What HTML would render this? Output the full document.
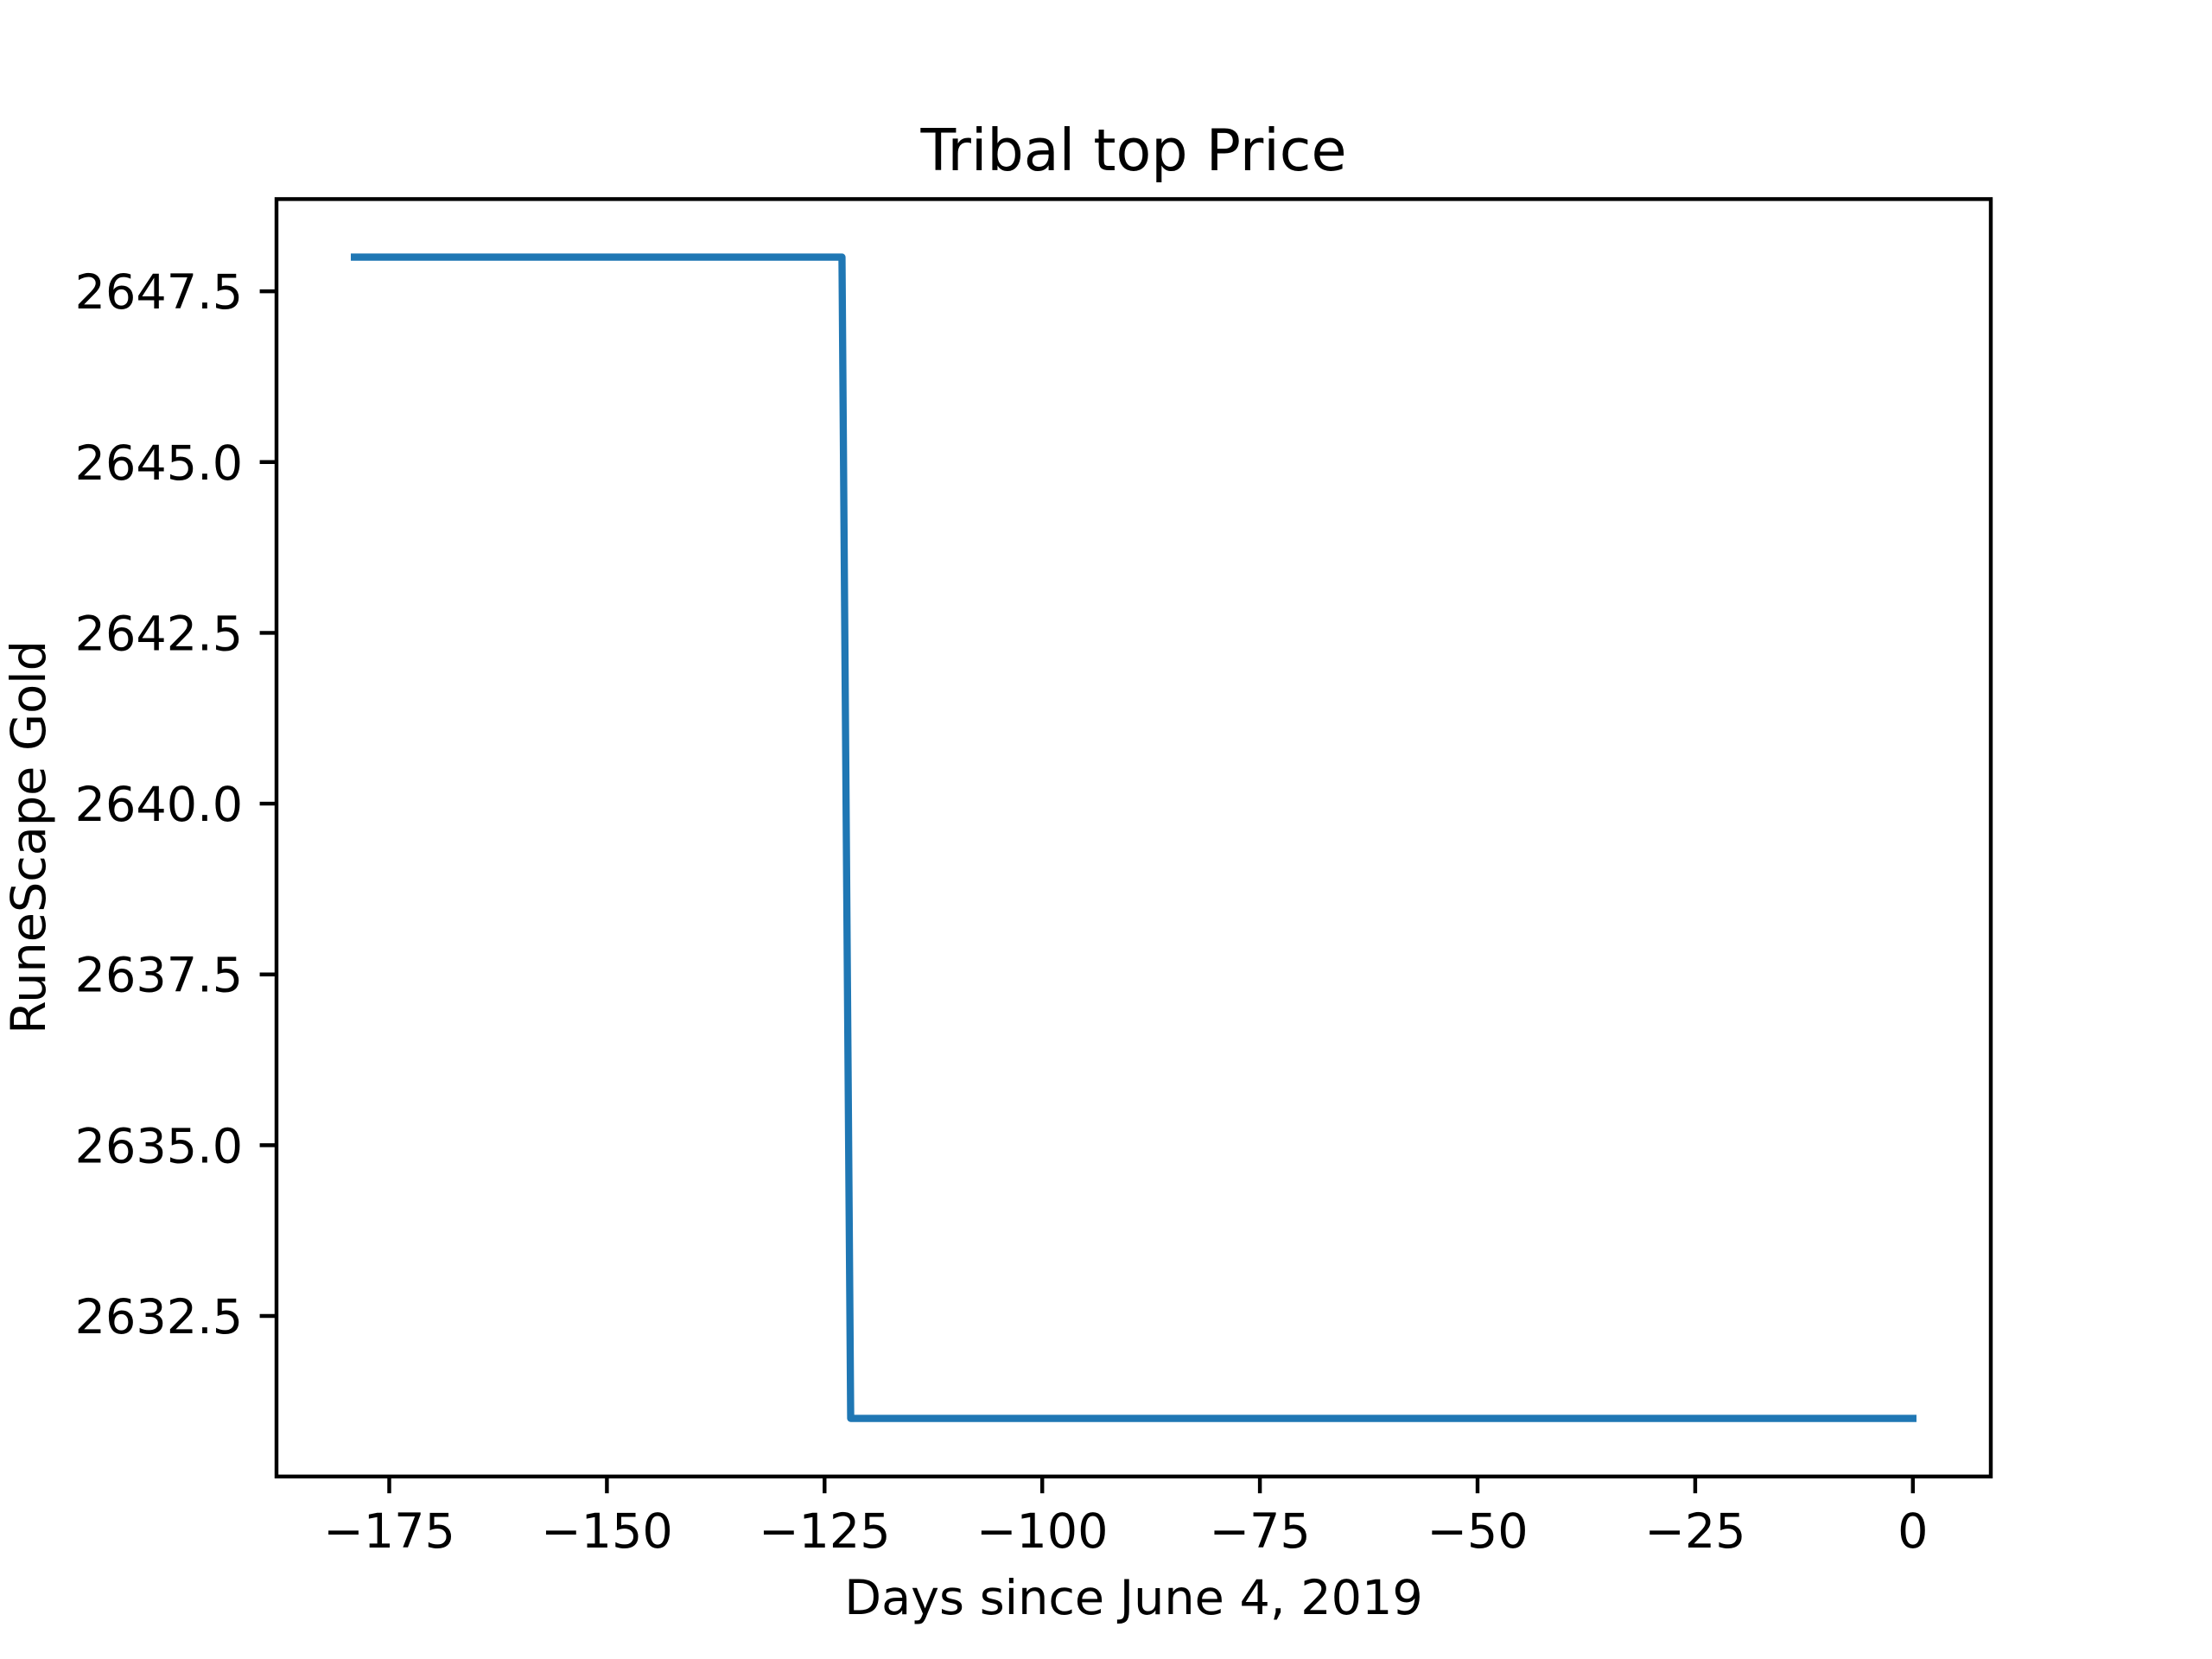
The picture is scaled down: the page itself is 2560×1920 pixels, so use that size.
<!DOCTYPE html>
<html><head><meta charset="utf-8"><style>
html,body{margin:0;padding:0;background:#fff;}
svg{display:block;font-family:"DejaVu Sans","Liberation Sans",sans-serif;}
</style></head><body>
<svg id="chart" width="2560" height="1920" viewBox="0 0 2560 1920">
<rect width="2560" height="1920" fill="#fff"/>
<text x="1312" y="197" font-size="66.7" text-anchor="middle">Tribal top Price</text>
<g id="xticks"></g>
<g id="yticks"></g>
<polyline id="line" fill="none" stroke="#1f77b4" stroke-width="8.33" stroke-linejoin="round" stroke-linecap="square"/>
<rect x="320" y="230.4" width="1984" height="1478.4" fill="none" stroke="#000" stroke-width="4.44"/>
<text x="1312" y="1868" font-size="55.6" text-anchor="middle">Days since June 4, 2019</text>
<text transform="translate(52,969) rotate(-90)" font-size="55.6" text-anchor="middle">RuneScape Gold</text>
</svg>
<script>
const days = [-179, -123, -122, 0];
const prices = [2648, 2648, 2631, 2631];
const xTickValues = [-175, -150, -125, -100, -75, -50, -25, 0];
const xTickLabels = ["\u2212175", "\u2212150", "\u2212125", "\u2212100", "\u221275", "\u221250", "\u221225", "0"];
const yTickValues = [2632.5, 2635, 2637.5, 2640, 2642.5, 2645, 2647.5];
const yTickLabels = ["2632.5", "2635.0", "2637.5", "2640.0", "2642.5", "2645.0", "2647.5"];

const L=320,R=2304,T=230.4,B=1708.8;
const xmin=Math.min(...days),xmax=Math.max(...days),xm=(xmax-xmin)*0.05;
const ymin=Math.min(...prices),ymax=Math.max(...prices),ym=(ymax-ymin)*0.05;
const sx=v=>L+(v-(xmin-xm))/((xmax+xm)-(xmin-xm))*(R-L);
const sy=v=>B-(v-(ymin-ym))/((ymax+ym)-(ymin-ym))*(B-T);
const NS="http://www.w3.org/2000/svg";
const line=document.getElementById('line');
line.setAttribute('points',days.map((d,i)=>sx(d)+','+sy(prices[i])).join(' '));
const xg=document.getElementById('xticks');
xTickValues.forEach((v,i)=>{
  const t=document.createElementNS(NS,'line');
  
  
  t.setAttribute('x1',sx(v));t.setAttribute('x2',sx(v));t.setAttribute('y1',B);t.setAttribute('y2',B+19.4);
  t.setAttribute('stroke','#000');t.setAttribute('stroke-width','4.44');xg.appendChild(t);
  const s=document.createElementNS(NS,'text');
  
  
  s.setAttribute('x',sx(v));s.setAttribute('y',B+82);s.setAttribute('font-size','55.6');s.setAttribute('text-anchor','middle');
  s.textContent=xTickLabels[i];xg.appendChild(s);
});
const yg=document.getElementById('yticks');
yTickValues.forEach((v,i)=>{
  const t=document.createElementNS(NS,'line');
  
  
  t.setAttribute('x1',L-19.4);t.setAttribute('x2',L);t.setAttribute('y1',sy(v));t.setAttribute('y2',sy(v));
  t.setAttribute('stroke','#000');t.setAttribute('stroke-width','4.44');yg.appendChild(t);
  const s=document.createElementNS(NS,'text');
  
  
  s.setAttribute('x',L-38.8);s.setAttribute('y',sy(v)+20);s.setAttribute('font-size','55.6');s.setAttribute('text-anchor','end');
  s.textContent=yTickLabels[i];yg.appendChild(s);
});
</script>
</body></html>
